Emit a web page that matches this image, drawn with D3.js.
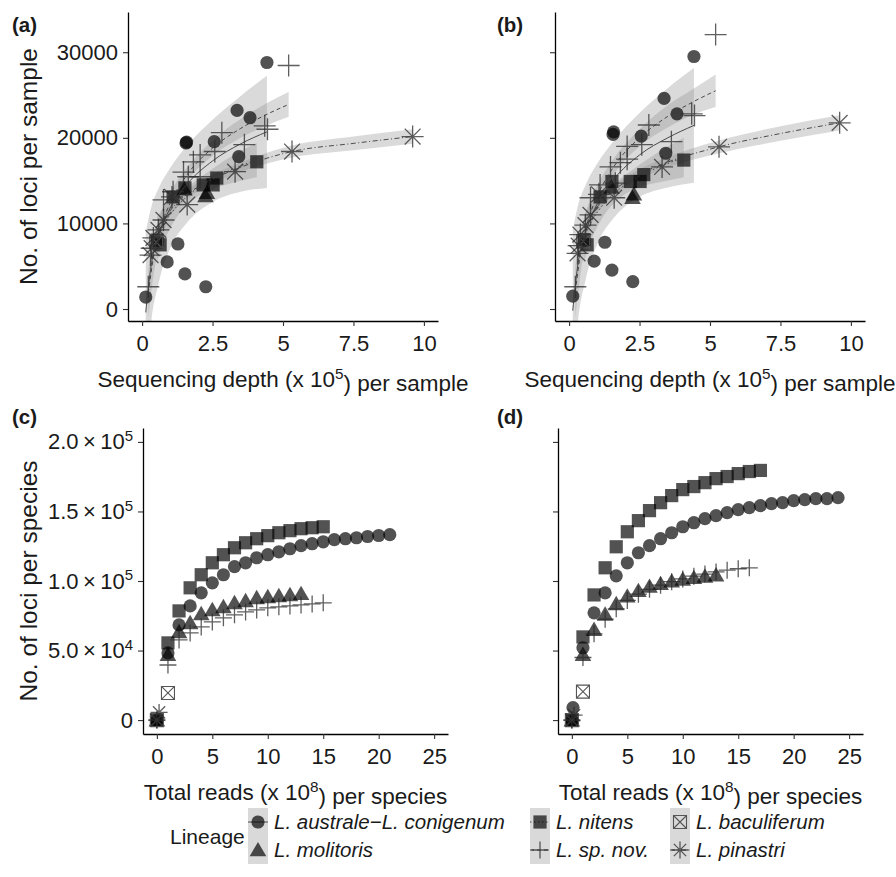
<!DOCTYPE html>
<html>
<head>
<meta charset="utf-8">
<script src="https://cdn.jsdelivr.net/npm/d3@7"></script>
<style>
  body { margin: 0; background: #fff; }
  svg text { font-family: "Liberation Sans", Arial, sans-serif; fill: #1a1a1a; }
</style>
</head>
<body>
<div id="chart"></div>
<script>
// ---- panels (a) / (b): sequencing depth (x 10^5) vs loci per sample ----
const australeDepth = [0.13, 0.89, 1.27, 1.52, 1.56, 1.58, 2.26, 2.56, 3.37, 3.43, 3.83, 4.43];
const australeLociA = [1400, 5500, 7600, 4100, 19400, 19500, 2600, 19550, 23200, 17800, 22350, 28800];
const australeLociB = [1500, 5600, 7800, 4550, 20400, 20700, 3200, 20200, 24600, 18200, 22800, 29500];

const molitorisDepth = [1.5, 2.25, 2.3];
const molitorisLociA = [14000, 13200, 13600];
const molitorisLociB = [14200, 13000, 13400];

const nitensDepth = [0.53, 0.64, 1.1, 1.52, 2.17, 2.52, 2.65, 4.07];
const nitensLociA = [8050, 7500, 13100, 14150, 14500, 14500, 15300, 17200];
const nitensLociB = [8100, 7500, 13100, 14900, 14900, 14900, 15700, 17400];

const spnovDepth = [0.22, 0.76, 1.1, 1.47, 1.64, 1.82, 2.06, 2.06, 2.58, 2.83, 3.63, 4.35, 4.45, 5.2];
const spnovLociA = [2600, 12750, 13700, 16000, 15450, 17200, 18000, 15450, 18400, 20600, 19200, 21400, 21000, 28450];
const spnovLociB = [2600, 13000, 14500, 16600, 14700, 17100, 19000, 17500, 19200, 21500, 19550, 22800, 22600, 32060];

const baculiferumDepth = [0.5];
const baculiferumLociA = [7800];
const baculiferumLociB = [7900];

const pinastriDepth = [0.3, 0.34, 0.4, 0.58, 0.76, 1.06, 1.6, 3.3, 5.32, 9.6];
const pinastriLociA = [6300, 7100, 8300, 9250, 10400, 13100, 12200, 16050, 18400, 20150];
const pinastriLociB = [6500, 7400, 8700, 9800, 11000, 13400, 13000, 16600, 18950, 21750];

// fitted log curves (fit value and half-width of the confidence band)
const australeFitDepth = [0.13, 0.3, 0.6, 1.0, 1.6, 2.5, 3.5, 4.43];
const australeFitA = [-400, 4600, 8700, 11800, 14600, 17300, 19300, 20700];
const australeBandA = [9400, 7000, 5500, 4700, 4500, 4800, 5600, 6550];
const australeFitB = [-200, 4900, 9100, 12300, 15200, 18000, 20000, 21450];
const australeBandB = [9400, 7000, 5500, 4700, 4500, 4900, 5800, 6700];

const spnovFitDepth = [0.22, 0.4, 0.7, 1.0, 1.6, 2.5, 3.5, 4.4, 5.2];
const spnovFitA = [1850, 6000, 9900, 12400, 15700, 18800, 21100, 22700, 23900];
const spnovBandA = [2800, 2200, 1600, 1200, 850, 900, 1100, 1300, 1450];
const spnovFitB = [2000, 6400, 10600, 13200, 16700, 20000, 22500, 24200, 25500];
const spnovBandB = [3000, 2400, 1800, 1300, 950, 1000, 1300, 1500, 1900];

const nitensFitDepth = [0.53, 0.8, 1.2, 1.8, 2.5, 3.2, 4.07];
const nitensFitA = [8180, 10040, 11870, 13710, 15190, 16310, 17400];
const nitensBandA = [2600, 2000, 1300, 1000, 1200, 1600, 2000];
const nitensFitB = [8300, 10250, 12150, 14050, 15550, 16600, 17700];
const nitensBandB = [2700, 2100, 1400, 1100, 1300, 1800, 2300];

const pinastriFitDepth = [0.3, 0.5, 0.8, 1.2, 2, 3.3, 5.32, 7.5, 9.6];
const pinastriFitA = [6800, 8800, 10650, 12250, 14300, 16300, 18400, 19350, 20150];
const pinastriBandA = [1000, 800, 650, 550, 500, 550, 700, 800, 850];
const pinastriFitB = [7000, 9100, 11050, 12700, 14850, 16900, 18950, 20500, 21750];
const pinastriBandB = [1050, 850, 700, 600, 550, 600, 750, 850, 900];

// ---- panels (c) / (d): total reads (x 10^8) vs loci per species ----
const australeReadsC = [0, 1, 2, 3, 4, 5, 6, 7, 8, 9, 10, 11, 12, 13, 14, 15, 16, 17, 18, 19, 20, 21];
const australeSpeciesC = [0, 48300, 68400, 82100, 91500, 98700, 104500, 110300, 113100, 116700, 118900, 121000, 123200, 125400, 126800, 128200, 129700, 130400, 131100, 132000, 132700, 133300];
const molitorisReadsC = [0, 1, 2, 3, 4, 5, 6, 7, 8, 9, 10, 11, 12, 13];
const molitorisSpeciesC = [0, 47000, 63400, 69900, 76400, 79200, 81400, 84300, 85700, 87900, 88600, 89300, 90000, 90800];
const nitensReadsC = [0, 1, 2, 3, 4, 5, 6, 7, 8, 9, 10, 11, 12, 13, 14, 15];
const nitensSpeciesC = [0, 55500, 78500, 95100, 104500, 113100, 118900, 123900, 127500, 130400, 132600, 134700, 136200, 137600, 138300, 139000];
const spnovReadsC = [0, 1, 2, 3, 4, 5, 6, 7, 8, 9, 10, 11, 12, 13, 14, 15];
const spnovSpeciesC = [0, 39600, 57600, 62700, 67000, 70600, 73500, 75700, 77800, 79200, 80700, 81400, 82100, 82800, 83500, 84300];
const baculiferumReadsC = [0, 1];
const baculiferumSpeciesC = [0, 19500];
const pinastriReadsC = [0, 0.2];
const pinastriSpeciesC = [0, 5500];

const australeReadsD = [0, 0.1, 1, 2, 3, 4, 5, 6, 7, 8, 9, 10, 11, 12, 13, 14, 15, 16, 17, 18, 19, 20, 21, 22, 23, 24];
const australeSpeciesD = [0, 9000, 52000, 77100, 91500, 103700, 113100, 120300, 125400, 130400, 134700, 139000, 141900, 144800, 147000, 149100, 151300, 152700, 154200, 155600, 156300, 157800, 158500, 159200, 159200, 159900];
const molitorisReadsD = [0, 1, 2, 3, 4, 5, 6, 7, 8, 9, 10, 11, 12, 13];
const molitorisSpeciesD = [0, 47000, 65000, 76000, 83500, 89000, 93000, 96000, 98000, 99800, 101200, 102300, 103300, 104200];
const nitensReadsD = [0, 1, 2, 3, 4, 5, 6, 7, 8, 9, 10, 11, 12, 13, 14, 15, 16, 17];
const nitensSpeciesD = [0, 59800, 90000, 109500, 124600, 135400, 143400, 150600, 156300, 161400, 165700, 167900, 170700, 173600, 175100, 177200, 178700, 179500];
const spnovReadsD = [0, 1, 2, 3, 4, 5, 6, 7, 8, 9, 10, 11, 12, 13, 14, 15, 16];
const spnovSpeciesD = [0, 45000, 62000, 72500, 80000, 86000, 90500, 94000, 97000, 99500, 101500, 103500, 105000, 106500, 107800, 108800, 109500];
const baculiferumReadsD = [0, 1];
const baculiferumSpeciesD = [0, 20500];
const pinastriReadsD = [0, 0.2];
const pinastriSpeciesD = [0, 3500];

// ---- ticks ----
const depthTicks = [0, 2.5, 5, 7.5, 10];
const depthTickLabels = ["0", "2.5", "5", "7.5", "10"];
const sampleLociTicks = [0, 10000, 20000, 30000];
const sampleLociTickLabels = ["0", "10000", "20000", "30000"];
const readsTicks = [0, 5, 10, 15, 20, 25];
const readsTickLabels = ["0", "5", "10", "15", "20", "25"];
const speciesLociTicks = [0, 50000, 100000, 150000, 200000];
const speciesTickMantissa = ["0", "5.0", "1.0", "1.5", "2.0"];
const speciesTickExponent = ["", "4", "5", "5", "5"];

const lineageNames = ["L. australe\u2212L. conigenum", "L. molitoris", "L. nitens", "L. sp. nov.", "L. baculiferum", "L. pinastri"];

// ---- drawing ----
const W = 896, H = 877;
const svg = d3.select("#chart").append("svg")
  .attr("width", W).attr("height", H);

const shapes = ["circle", "triangle", "square", "plus", "boxx", "asterisk"];
const dashes = { circle: null, square: "1.5,2.5", plus: "4,3", asterisk: "5,2.5,1,2.5" };

function marker(g, shape, cx, cy, big) {
  const s = big ? 11 : 8.5;
  if (shape === "circle") {
    g.append("circle").attr("cx", cx).attr("cy", cy).attr("r", 6.6)
      .attr("fill", "#000").attr("fill-opacity", 0.68);
  } else if (shape === "square") {
    g.append("rect").attr("x", cx - 6.6).attr("y", cy - 6.6).attr("width", 13.2).attr("height", 13.2)
      .attr("fill", "#000").attr("fill-opacity", 0.68);
  } else if (shape === "triangle") {
    g.append("path").attr("transform", `translate(${cx},${cy + 1.5})`)
      .attr("d", d3.symbol().type(d3.symbolTriangle).size(120)())
      .attr("fill", "#000").attr("fill-opacity", 0.68);
  } else if (shape === "plus") {
    g.append("path").attr("d", `M${cx - s},${cy}H${cx + s}M${cx},${cy - s}V${cy + s}`)
      .attr("stroke", "#2a2a2a").attr("stroke-opacity", 0.75).attr("stroke-width", 1.3).attr("fill", "none");
  } else if (shape === "asterisk") {
    const d = s * 0.72;
    g.append("path")
      .attr("d", `M${cx - s},${cy}H${cx + s}M${cx},${cy - s}V${cy + s}M${cx - d},${cy - d}L${cx + d},${cy + d}M${cx - d},${cy + d}L${cx + d},${cy - d}`)
      .attr("stroke", "#2a2a2a").attr("stroke-opacity", 0.75).attr("stroke-width", 1.3).attr("fill", "none");
  } else if (shape === "boxx") {
    const h = 6.5;
    g.append("path")
      .attr("d", `M${cx - h},${cy - h}H${cx + h}V${cy + h}H${cx - h}Z M${cx - h},${cy - h}L${cx + h},${cy + h}M${cx - h},${cy + h}L${cx + h},${cy - h}`)
      .attr("stroke", "#555").attr("stroke-width", 1.1).attr("fill", "none");
  }
}

function styleAxis(ax) {
  ax.attr("font-family", null).attr("font-size", null);
  ax.select(".domain").attr("stroke", "#000").attr("stroke-width", 1.3);
  ax.selectAll(".tick line").attr("stroke", "#333").attr("stroke-width", 1.1);
  ax.selectAll(".tick text").style("font-size", "22px").attr("fill", "#1a1a1a");
}

function supText(sel, before, sup, after, size) {
  sel.append("tspan").text(before);
  sel.append("tspan").attr("dy", "-0.5em").style("font-size", (size * 0.68) + "px").text(sup);
  sel.append("tspan").attr("dy", "0.5em").text(after);
}

function drawPanel(p) {
  const x = d3.scaleLinear().domain(p.xDomain).range([p.left, p.right]);
  const y = d3.scaleLinear().domain(p.yDomain).range([p.bottom, p.top]);
  const g = svg.append("g");

  svg.append("clipPath").attr("id", "clip-" + p.id).append("rect")
    .attr("x", p.left).attr("y", p.top)
    .attr("width", p.right - p.left).attr("height", p.bottom - p.top);
  const plot = g.append("g").attr("clip-path", `url(#clip-${p.id})`);

  // confidence bands
  const fits = p.fits || [];
  fits.forEach(f => {
    const rows = f.x.map((v, i) => ({ x: v, fit: f.fit[i], half: f.half[i] }));
    plot.append("path").datum(rows)
      .attr("d", d3.area().curve(d3.curveMonotoneX)
        .x(d => x(d.x)).y0(d => y(d.fit - d.half)).y1(d => y(d.fit + d.half)))
      .attr("fill", "#8f8f8f").attr("fill-opacity", 0.33);
  });

  // points
  p.series.forEach(s => {
    s.x.forEach((v, i) => marker(plot, s.shape, x(v), y(s.y[i]), p.big));
  });

  // fitted lines
  fits.forEach(f => {
    const rows = f.x.map((v, i) => ({ x: v, fit: f.fit[i] }));
    plot.append("path").datum(rows)
      .attr("d", d3.line().curve(d3.curveMonotoneX).x(d => x(d.x)).y(d => y(d.fit)))
      .attr("fill", "none").attr("stroke", "#3a3a3a").attr("stroke-width", 0.9)
      .attr("stroke-dasharray", dashes[f.shape]);
  });

  // axes
  const xAx = g.append("g").attr("transform", `translate(0,${p.bottom})`)
    .call(d3.axisBottom(x).tickValues(p.xTicks).tickSize(5).tickSizeOuter(0).tickPadding(9)
      .tickFormat((d, i) => p.xTickLabels[i]));
  styleAxis(xAx);

  const yAx = g.append("g").attr("transform", `translate(${p.left},0)`)
    .call(d3.axisLeft(y).tickValues(p.yTicks).tickSize(5).tickSizeOuter(0).tickPadding(5)
      .tickFormat(p.showY && p.yTickLabels ? (d, i) => p.yTickLabels[i] : ""));
  styleAxis(yAx);
  if (p.showY && p.yTickSup) {
    yAx.selectAll(".tick text").each(function (d, i) {
      const t = d3.select(this).text(null);
      if (p.yTickSup.exp[i] === "") { t.text(p.yTickSup.man[i]); return; }
      t.append("tspan").text(p.yTickSup.man[i] + "\u2009\u00d7\u200910");
      t.append("tspan").attr("dy", "-0.55em").style("font-size", "15px").text(p.yTickSup.exp[i]);
    });
  }

  // axis titles
  const xt = g.append("text").attr("x", (p.left + p.right) / 2).attr("y", p.bottom + 66)
    .attr("text-anchor", "middle").style("font-size", "22.5px");
  supText(xt, p.xTitle[0], p.xTitle[1], p.xTitle[2], 22.5);

  if (p.yTitle) {
    g.append("text").attr("transform", `translate(37,${(p.top + p.bottom) / 2}) rotate(-90)`)
      .attr("text-anchor", "middle").style("font-size", "24.5px").text(p.yTitle);
  }

  g.append("text").attr("x", p.labelX).attr("y", p.labelY)
    .style("font-size", "20.5px").style("font-weight", "bold").text(p.label);
}

function series(xs, ys) {
  return shapes.map((sh, i) => ({ shape: sh, x: xs[i], y: ys[i] }));
}

const depthAll = [australeDepth, molitorisDepth, nitensDepth, spnovDepth, baculiferumDepth, pinastriDepth];

function fitsFor(which) {
  const A = which === "A";
  return [
    { shape: "circle", x: australeFitDepth, fit: A ? australeFitA : australeFitB, half: A ? australeBandA : australeBandB },
    { shape: "square", x: nitensFitDepth, fit: A ? nitensFitA : nitensFitB, half: A ? nitensBandA : nitensBandB },
    { shape: "plus", x: spnovFitDepth, fit: A ? spnovFitA : spnovFitB, half: A ? spnovBandA : spnovBandB },
    { shape: "asterisk", x: pinastriFitDepth, fit: A ? pinastriFitA : pinastriFitB, half: A ? pinastriBandA : pinastriBandB }
  ];
}

const topCommon = {
  top: 12, bottom: 321, xDomain: [-0.5, 10.5], yDomain: [-1400, 34700],
  xTicks: depthTicks, xTickLabels: depthTickLabels, yTicks: sampleLociTicks,
  xTitle: ["Sequencing depth (x 10", "5", ") per sample"], big: true
};
const botCommon = {
  top: 428, bottom: 734, xDomain: [-1.25, 26.25], yDomain: [-10000, 210000],
  xTicks: readsTicks, xTickLabels: readsTickLabels, yTicks: speciesLociTicks,
  xTitle: ["Total reads (x 10", "8", ") per species"], big: false
};

drawPanel(Object.assign({}, topCommon, {
  id: "a", left: 128, right: 438, label: "(a)", labelX: 12, labelY: 32,
  showY: true, yTickLabels: sampleLociTickLabels, yTitle: "No. of loci per sample",
  series: series(depthAll, [australeLociA, molitorisLociA, nitensLociA, spnovLociA, baculiferumLociA, pinastriLociA]),
  fits: fitsFor("A")
}));
drawPanel(Object.assign({}, topCommon, {
  id: "b", left: 555, right: 865, label: "(b)", labelX: 497, labelY: 32, showY: false,
  series: series(depthAll, [australeLociB, molitorisLociB, nitensLociB, spnovLociB, baculiferumLociB, pinastriLociB]),
  fits: fitsFor("B")
}));
drawPanel(Object.assign({}, botCommon, {
  id: "c", left: 143, right: 448, label: "(c)", labelX: 12, labelY: 424,
  showY: true, yTickSup: { man: speciesTickMantissa, exp: speciesTickExponent }, yTitle: "No. of loci per species",
  series: series([australeReadsC, molitorisReadsC, nitensReadsC, spnovReadsC, baculiferumReadsC, pinastriReadsC],
    [australeSpeciesC, molitorisSpeciesC, nitensSpeciesC, spnovSpeciesC, baculiferumSpeciesC, pinastriSpeciesC])
}));
drawPanel(Object.assign({}, botCommon, {
  id: "d", left: 558, right: 863, label: "(d)", labelX: 497, labelY: 424, showY: false,
  series: series([australeReadsD, molitorisReadsD, nitensReadsD, spnovReadsD, baculiferumReadsD, pinastriReadsD],
    [australeSpeciesD, molitorisSpeciesD, nitensSpeciesD, spnovSpeciesD, baculiferumSpeciesD, pinastriSpeciesD])
}));

// legend: 3 columns x 2 rows
const legend = svg.append("g");
legend.append("text").attr("x", 170).attr("y", 844).style("font-size", "21px").text("Lineage");
const colKeyX = [258, 540, 680];
const rowY = [822, 850];
lineageNames.forEach((name, i) => {
  const col = Math.floor(i / 2), row = i % 2;
  const kx = colKeyX[col], ky = rowY[row];
  const shape = shapes[i];
  legend.append("rect").attr("x", kx - 10).attr("y", ky - 14).attr("width", 20).attr("height", 28)
    .attr("fill", "#d9d9d9");
  if (dashes[shape] !== undefined) {
    legend.append("line").attr("x1", kx - 10).attr("x2", kx + 10).attr("y1", ky).attr("y2", ky)
      .attr("stroke", "#3a3a3a").attr("stroke-width", 0.9).attr("stroke-dasharray", dashes[shape]);
  }
  marker(legend, shape, kx, ky, false);
  legend.append("text").attr("x", kx + 16).attr("y", ky + 7)
    .style("font-size", "20.5px").style("font-style", "italic").text(name);
});
</script>
</body>
</html>
